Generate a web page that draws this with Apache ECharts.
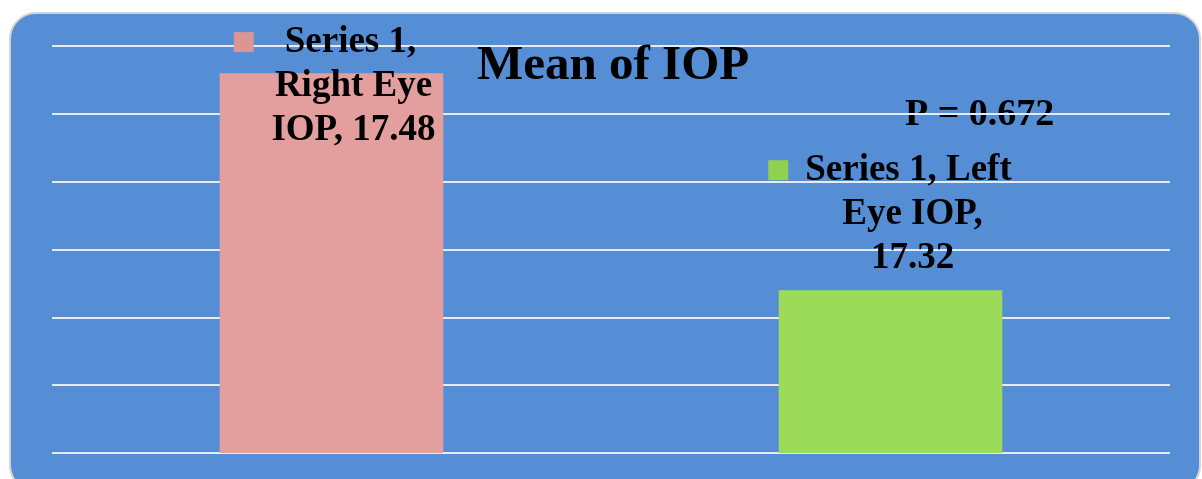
<!DOCTYPE html>
<html>
<head>
<meta charset="utf-8">
<script src="https://cdn.jsdelivr.net/npm/echarts@6/dist/echarts.min.js"></script>
<style>
  html, body { margin: 0; padding: 0; background: #fff; }
  #chart { width: 1202px; height: 479px; }
</style>
</head>
<body>
<div id="chart"></div>
<script>
'use strict';

// data
var categories = ['Right Eye IOP', 'Left Eye IOP'];
var values = [17.48, 17.32];
var barColors = ['#e39f9e', '#9cdb5a'];
var markerColors = ['#d99694', '#92d050'];
var labelLines = [
    ['Series 1,', 'Right Eye', 'IOP, 17.48'],
    ['Series 1, Left', 'Eye IOP,', '17.32']
];
// label placement tweaks: [x, y] offset, gap after marker, trailing pad on line 1
var labelOffsets = [[22, 79], [22, -10]];
var markerGaps = [31, 17];
var linePads = [57, 45];
var yMin = 17.2, yMax = 17.5, yStep = 0.05;
var pText = 'P = 0.672';
var titleText = 'Mean of IOP';

var font = '"Liberation Serif", "Times New Roman", serif';

var chart = echarts.init(document.getElementById('chart'));

// bar data, each item carries its own label
var barData = values.map(function(v, i) {
    var lines = labelLines[i];
    var rich = {
        t: { fontFamily: font, fontWeight: 'bold', fontSize: 37, color: '#000', lineHeight: 44 },
        g: { width: markerGaps[i] },
        pad: { width: linePads[i] },
        m: { width: 20, height: 20, backgroundColor: markerColors[i] }
    };
    return {
        value: v,
        itemStyle: { color: barColors[i] },
        label: {
            offset: labelOffsets[i],
            formatter: '{m|}{g|}{t|' + lines[0] + '}{pad|}\n{t|' + lines[1] + '}\n{t|' + lines[2] + '}',
            rich: rich
        }
    };
});

var option = {
    animation: false,
    backgroundColor: '#ffffff',
    title: {
        text: titleText,
        left: 472,
        top: 37,
        textStyle: { fontFamily: font, fontWeight: 'bold', fontSize: 49, color: '#000' }
    },
    graphic: [
        {
            type: 'rect',
            z: -10,
            shape: { x: 10, y: 13, width: 1190, height: 478, r: 26 },
            style: { fill: '#558ed5', stroke: '#d4d4d4', lineWidth: 2 }
        },
        {
            type: 'text',
            left: 905,
            top: 96,
            style: { text: pText, font: 'bold 38px ' + font, fill: '#000' }
        }
    ],
    grid: { left: 52, right: 32, top: 46, bottom: 26, containLabel: false },
    xAxis: {
        type: 'category',
        data: categories,
        axisLine: { show: false },
        axisTick: { show: false },
        axisLabel: { show: false }
    },
    yAxis: {
        type: 'value',
        min: yMin,
        max: yMax,
        interval: yStep,
        axisLine: { show: false },
        axisTick: { show: false },
        axisLabel: { show: false },
        splitLine: { lineStyle: { color: '#e6ecf5', width: 2 } }
    },
    series: [{
        type: 'bar',
        barCategoryGap: '60%',
        data: barData,
        label: {
            show: true,
            position: 'top',
            distance: 0,
            align: 'center'
        }
    }]
};

chart.setOption(option);
</script>
</body>
</html>
